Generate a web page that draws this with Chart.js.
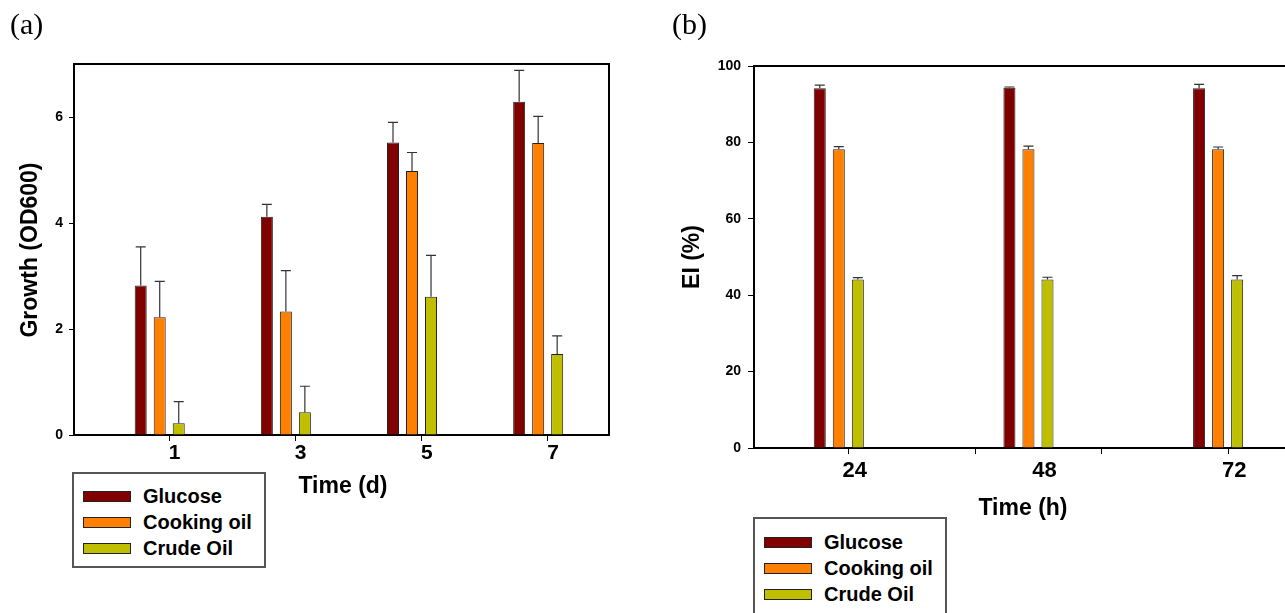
<!DOCTYPE html>
<html>
<head>
<meta charset="utf-8">
<script src="https://cdn.jsdelivr.net/npm/chart.js@4.4.1/dist/chart.umd.min.js"></script>
<style>
  html, body { margin: 0; padding: 0; background: #fff; }
  body { width: 1285px; height: 613px; overflow: hidden; position: relative; font-family: 'Liberation Sans', Arial, sans-serif; color: #000; }
  canvas { position: absolute; top: 0; }
  #chartA { left: 0; }
  #chartB { left: 640px; }
  .panel { position: absolute; top: 9px; font-family: 'Liberation Serif', 'Times New Roman', serif; font-size: 30px; line-height: 30px; }
  .ttl { position: absolute; font-weight: bold; font-size: 23px; white-space: nowrap; transform: translate(-50%, -50%); }
  .ttl.rot { transform: translate(-50%, -50%) rotate(-90deg); }
  .legend { position: absolute; width: 194px; box-sizing: border-box; border: 2px solid #555; background: #fff; }
  .legend .row { height: 26px; display: flex; align-items: center; font-weight: bold; font-size: 20px; }
  .legend .sw { width: 48px; height: 11px; box-sizing: border-box; border: 1px solid #222; margin-left: 9px; margin-right: 12px; }
</style>
</head>
<body>
<canvas id="chartA" width="640" height="613"></canvas>
<canvas id="chartB" width="660" height="613"></canvas>

<div class="panel" style="left:10px">(a)</div>
<div class="panel" style="left:672px">(b)</div>

<div class="ttl rot" style="left:29px; top:250px">Growth (OD600)</div>
<div class="ttl" style="left:343px; top:485px">Time (d)</div>
<div class="ttl rot" style="left:691px; top:257px">EI (%)</div>
<div class="ttl" style="left:1023px; top:507px">Time (h)</div>

<div class="legend" id="legendA" style="left:72px; top:472px; height:96px; padding-top:9px"></div>
<div class="legend" id="legendB" style="left:753px; top:517px; height:110px; padding-top:10px"></div>

<script>
// series shared by both panels
const seriesNames = ['Glucose', 'Cooking oil', 'Crude Oil'];
const seriesColors = ['#800000', '#FF8000', '#BFBF00'];

// (a) growth (OD600) against time in days
const days = [1, 3, 5, 7];
const growthGlucose = [2.82, 4.12, 5.52, 6.29];
const growthCooking = [2.22, 2.33, 4.98, 5.51];
const growthCrude = [0.22, 0.43, 2.61, 1.53];
const growthGlucoseErr = [0.73, 0.23, 0.38, 0.59];
const growthCookingErr = [0.68, 0.77, 0.35, 0.50];
const growthCrudeErr = [0.41, 0.49, 0.78, 0.34];
const growthTicksY = [0, 2, 4, 6];

// (b) emulsification index (%) against time in hours
const hours = [24, 48, 72];
const eiGlucose = [94.2, 94.3, 94.2];
const eiCooking = [78.2, 78.2, 78.2];
const eiCrude = [44.1, 44.1, 44.1];
const eiGlucoseErr = [0.8, 0.2, 1.0];
const eiCookingErr = [0.7, 0.8, 0.6];
const eiCrudeErr = [0.5, 0.6, 1.0];
const eiTicksY = [0, 20, 40, 60, 80, 100];
const eiTickMarksX = [24, 40, 56, 72];
const eiLabelsX = [24, 48, 72];

const fontFamily = "'Liberation Sans', Arial, sans-serif";

// upward error bars with a cap
const errorBars = {
    id: 'errorBars',
    afterDatasetsDraw(chart) {
        const ctx = chart.ctx;
        const y = chart.scales.y;
        ctx.save();
        ctx.strokeStyle = '#333';
        ctx.lineWidth = 1.2;
        chart.data.datasets.forEach((ds, i) => {
            chart.getDatasetMeta(i).data.forEach((bar, j) => {
                const top = y.getPixelForValue(ds.data[j].y + ds.errors[j]);
                const half = bar.width / 2 - 1;
                ctx.beginPath();
                ctx.moveTo(bar.x, bar.y);
                ctx.lineTo(bar.x, top);
                ctx.moveTo(bar.x - half, top);
                ctx.lineTo(bar.x + half, top);
                ctx.stroke();
            });
        });
        ctx.restore();
    }
};

// top and right edge of the plot box
const frame = {
    id: 'frame',
    afterDraw(chart) {
        const { ctx, chartArea: a } = chart;
        ctx.save();
        ctx.strokeStyle = '#000';
        ctx.lineWidth = 2;
        ctx.beginPath();
        ctx.moveTo(a.left, a.top);
        ctx.lineTo(a.right, a.top);
        ctx.lineTo(a.right, a.bottom);
        ctx.stroke();
        ctx.restore();
    }
};

function makeDatasets(xs, values, errors, catPct) {
    return values.map((vals, k) => ({
        label: seriesNames[k],
        data: xs.map((x, i) => ({ x: x, y: vals[i] })),
        errors: errors[k],
        backgroundColor: seriesColors[k],
        borderColor: '#222',
        borderWidth: 1,
        xAxisID: 'xb',
        yAxisID: 'y',
        categoryPercentage: catPct,
        barPercentage: 0.632
    }));
}

function axisStyle(tickLength) {
    return {
        grid: { drawOnChartArea: false, offset: false, tickLength: tickLength, tickColor: '#000', tickWidth: 1 },
        border: { color: '#000', width: 2 }
    };
}

// panel (a)
new Chart(document.getElementById('chartA'), {
    type: 'bar',
    data: {
        datasets: makeDatasets(days,
            [growthGlucose, growthCooking, growthCrude],
            [growthGlucoseErr, growthCookingErr, growthCrudeErr], 0.452)
    },
    options: {
        responsive: false,
        animation: false,
        devicePixelRatio: 1,
        layout: { padding: { left: 0, top: 64, right: 31, bottom: 0 } },
        plugins: { legend: { display: false }, tooltip: { enabled: false } },
        scales: {
            x: {
                type: 'linear', position: 'bottom', min: -0.514, max: 7.967, offset: false,
                afterBuildTicks: s => { s.ticks = days.map(v => ({ value: v })); },
                afterFit: s => { s.height = 178; },
                ...axisStyle(6),
                ticks: { color: '#000', font: { family: fontFamily, size: 21, weight: 'bold' }, padding: 0, labelOffset: 5, maxRotation: 0, autoSkip: false }
            },
            xb: {
                type: 'linear', axis: 'x', position: 'bottom', display: false, min: -0.359, max: 8.123, offset: false,
                grid: { offset: false },
                afterBuildTicks: s => { s.ticks = days.map(v => ({ value: v })); }
            },
            y: {
                min: 0, max: 7,
                afterBuildTicks: s => { s.ticks = growthTicksY.map(v => ({ value: v })); },
                afterFit: s => { s.width = 74; },
                ...axisStyle(5),
                ticks: { color: '#000', font: { family: fontFamily, size: 14, weight: 'bold' }, padding: 6 }
            }
        }
    },
    plugins: [errorBars, frame]
});

// panel (b)
new Chart(document.getElementById('chartB'), {
    type: 'bar',
    data: {
        datasets: makeDatasets(hours,
            [eiGlucose, eiCooking, eiCrude],
            [eiGlucoseErr, eiCookingErr, eiCrudeErr], 0.301)
    },
    options: {
        responsive: false,
        animation: false,
        devicePixelRatio: 1,
        layout: { padding: { left: 0, top: 66, right: 11, bottom: 0 } },
        plugins: { legend: { display: false }, tooltip: { enabled: false } },
        scales: {
            x: {
                type: 'linear', position: 'bottom', min: 12, max: 79.7, offset: false,
                afterBuildTicks: s => {
                    const vals = [...new Set([...eiTickMarksX, ...eiLabelsX])].sort((a, b) => a - b);
                    s.ticks = vals.map(v => ({ value: v }));
                },
                afterFit: s => { s.height = 165; },
                grid: {
                    drawOnChartArea: false, offset: false, tickLength: 6, tickWidth: 1,
                    tickColor: c => (c.tick && eiTickMarksX.includes(c.tick.value)) ? '#000' : 'rgba(0,0,0,0)'
                },
                border: { color: '#000', width: 2 },
                ticks: {
                    color: '#000', font: { family: fontFamily, size: 22, weight: 'bold' }, padding: 4, labelOffset: 6,
                    maxRotation: 0, autoSkip: false,
                    callback: v => eiLabelsX.includes(v) ? String(v) : ''
                }
            },
            xb: {
                type: 'linear', axis: 'x', position: 'bottom', display: false, min: 13.27, max: 80.97, offset: false,
                grid: { offset: false },
                afterBuildTicks: s => { s.ticks = hours.map(v => ({ value: v })); }
            },
            y: {
                min: 0, max: 100,
                afterBuildTicks: s => { s.ticks = eiTicksY.map(v => ({ value: v })); },
                afterFit: s => { s.width = 114; },
                ...axisStyle(6),
                ticks: { color: '#000', font: { family: fontFamily, size: 14, weight: 'bold' }, padding: 7 }
            }
        }
    },
    plugins: [errorBars, frame]
});

// legends as boxed lists
function buildLegend(id) {
    const box = document.getElementById(id);
    seriesNames.forEach((name, k) => {
        const row = document.createElement('div');
        row.className = 'row';
        const sw = document.createElement('span');
        sw.className = 'sw';
        sw.style.background = seriesColors[k];
        const txt = document.createElement('span');
        txt.textContent = name;
        row.appendChild(sw);
        row.appendChild(txt);
        box.appendChild(row);
    });
}
buildLegend('legendA');
buildLegend('legendB');
</script>
</body>
</html>
